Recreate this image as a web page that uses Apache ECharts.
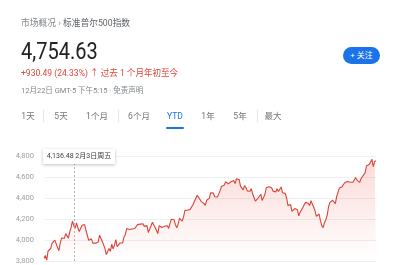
<!DOCTYPE html>
<html><head><meta charset="utf-8">
<script src="https://cdn.jsdelivr.net/npm/echarts@6/dist/echarts.min.js"></script>
<style>
html,body{margin:0;padding:0;background:#fff;}
body{width:395px;height:265px;overflow:hidden;position:relative;font-family:Roboto,"Noto Sans CJK SC",sans-serif;}
#chart{position:absolute;left:0;top:0;width:395px;height:265px;z-index:0;}
.t{position:absolute;white-space:nowrap;z-index:2;line-height:1;}
.tab{position:absolute;top:112px;font-size:8.5px;color:#70757a;z-index:2;transform:translateX(-50%);white-space:nowrap;line-height:1;}
.sep{position:absolute;top:110px;width:1px;height:12px;background:#e3e5e8;z-index:2;}
</style></head><body>
<div id="chart"></div>
<div class="t" style="left:21px;top:18px;font-size:9.5px;color:#80868b;transform:scaleX(0.92);transform-origin:left;">市场概况 › <span style="color:#5f6368">标准普尔500指数</span></div>
<div class="t" id="price" style="left:21px;top:40px;font-size:23px;color:#202124;transform:scaleX(0.87);transform-origin:left;"></div>
<div class="t" id="change" style="left:21px;top:69px;font-size:9px;color:#e0463a;transform:scaleX(0.95);transform-origin:left;"></div>
<div class="t" style="left:21px;top:87px;font-size:7.5px;color:#80868b;">12月22日 GMT-5 下午5:15 · 免责声明</div>
<div class="t" style="left:343px;top:47px;width:37px;height:17px;border-radius:9px;background:#1a73e8;color:#fff;font-size:8px;display:flex;align-items:center;justify-content:center;">+ 关注</div>
<div id="tabs"></div>
<div class="t" style="left:166px;top:127px;width:18px;height:2px;background:#1a73e8;border-radius:1px;"></div>
<div class="t" id="tip" style="left:43px;top:149px;width:72px;height:15px;background:#fff;box-shadow:0 1px 3px rgba(0,0,0,.25);font-size:7px;color:#3c4043;display:flex;align-items:center;justify-content:center;"></div>
<script>
const breadcrumb = ["市场概况", "标准普尔500指数"];
const lastPrice = "4,754.63";
const changeText = "+930.49 (24.33%) ↑ 过去 1 个月年初至今";
const tabLabels = ["1天","5天","1个月","6个月","YTD","1年","5年","最大"];
const tabCenters = [28,61,97,139,175,208,240,273];
const tabSeparators = [43,118,257];
const yTicks = [3800,4000,4200,4400,4600,4800];
const hoverIndex = 22;
const hoverLabel = "4,136.48 2月3日周五";

const dates = [
"01/03","01/04","01/05","01/06","01/09","01/10","01/11","01/12","01/13","01/17","01/18","01/19","01/20","01/23","01/24","01/25","01/26","01/27","01/30","01/31",
"02/01","02/02","02/03","02/06","02/07","02/08","02/09","02/10","02/13","02/14","02/15","02/16","02/17","02/21","02/22","02/23","02/24","02/27","02/28",
"03/01","03/02","03/03","03/06","03/07","03/08","03/09","03/10","03/13","03/14","03/15","03/16","03/17","03/20","03/21","03/22","03/23","03/24","03/27","03/28","03/29","03/30","03/31",
"04/03","04/04","04/05","04/06","04/10","04/11","04/12","04/13","04/14","04/17","04/18","04/19","04/20","04/21","04/24","04/25","04/26","04/27","04/28",
"05/01","05/02","05/03","05/04","05/05","05/08","05/09","05/10","05/11","05/12","05/15","05/16","05/17","05/18","05/19","05/22","05/23","05/24","05/25","05/26","05/30","05/31",
"06/01","06/02","06/05","06/06","06/07","06/08","06/09","06/12","06/13","06/14","06/15","06/16","06/20","06/21","06/22","06/23","06/26","06/27","06/28","06/29","06/30",
"07/03","07/05","07/06","07/07","07/10","07/11","07/12","07/13","07/14","07/17","07/18","07/19","07/20","07/21","07/24","07/25","07/26","07/27","07/28","07/31",
"08/01","08/02","08/03","08/04","08/07","08/08","08/09","08/10","08/11","08/14","08/15","08/16","08/17","08/18","08/21","08/22","08/23","08/24","08/25","08/28","08/29","08/30","08/31",
"09/01","09/05","09/06","09/07","09/08","09/11","09/12","09/13","09/14","09/15","09/18","09/19","09/20","09/21","09/22","09/25","09/26","09/27","09/28","09/29",
"10/02","10/03","10/04","10/05","10/06","10/09","10/10","10/11","10/12","10/13","10/16","10/17","10/18","10/19","10/20","10/23","10/24","10/25","10/26","10/27","10/30","10/31",
"11/01","11/02","11/03","11/06","11/07","11/08","11/09","11/10","11/13","11/14","11/15","11/16","11/17","11/20","11/21","11/22","11/24","11/27","11/28","11/29","11/30",
"12/01","12/04","12/05","12/06","12/07","12/08","12/11","12/12","12/13","12/14","12/15","12/18","12/19","12/20","12/21","12/22"];

const closes = [
3824.14,3852.97,3808.10,3895.08,3892.09,3919.25,3969.61,3983.17,3999.09,3990.97,3928.86,3898.85,3972.61,4019.81,4016.95,4016.22,4060.43,4070.56,4017.77,4076.60,
4119.21,4179.76,4136.48,4111.08,4164.00,4117.86,4081.50,4090.46,4137.29,4136.13,4147.60,4090.41,4079.09,3997.34,3991.05,4012.32,3970.04,3982.24,3970.15,
3951.39,3981.35,4045.64,4048.42,3986.37,3992.01,3918.32,3861.59,3855.76,3919.29,3891.93,3960.28,3916.64,3951.57,4002.87,3936.97,3948.72,3970.99,3977.53,3971.27,4027.81,4050.83,4109.31,
4124.51,4100.60,4090.38,4105.02,4109.11,4108.94,4091.95,4146.22,4137.64,4151.32,4154.87,4154.52,4129.79,4133.52,4137.04,4071.63,4055.99,4135.35,4169.48,
4167.87,4119.58,4090.75,4061.22,4136.25,4138.12,4119.17,4137.64,4130.62,4124.08,4136.28,4109.90,4158.77,4198.05,4191.98,4192.63,4145.58,4115.24,4151.28,4205.45,4205.52,4179.83,
4221.02,4282.37,4273.79,4283.85,4267.52,4293.93,4298.86,4338.93,4369.01,4372.59,4425.84,4409.59,4388.71,4365.69,4381.89,4348.33,4328.82,4378.41,4376.86,4396.44,4450.38,
4455.59,4446.82,4411.59,4398.95,4409.53,4439.26,4472.16,4510.04,4505.42,4522.79,4554.98,4565.72,4534.87,4536.34,4554.64,4567.46,4566.75,4537.41,4582.23,4588.96,
4576.73,4513.39,4501.89,4478.03,4518.44,4499.38,4467.71,4468.83,4464.05,4489.72,4437.86,4404.33,4370.36,4369.71,4399.77,4387.55,4436.01,4376.31,4405.71,4433.31,4497.63,4514.87,4507.66,
4515.77,4496.83,4465.48,4451.14,4457.49,4487.46,4461.90,4467.44,4505.10,4450.32,4453.53,4443.95,4402.20,4330.00,4320.06,4337.44,4273.53,4274.51,4299.70,4288.05,
4288.39,4229.45,4263.75,4258.19,4308.50,4335.66,4358.24,4376.95,4349.61,4327.78,4373.63,4373.20,4314.60,4278.00,4224.16,4217.04,4247.68,4186.77,4137.23,4117.37,4166.82,4193.80,
4237.86,4317.78,4358.34,4365.98,4378.38,4382.78,4347.35,4415.24,4411.55,4495.70,4502.88,4508.24,4514.02,4547.38,4538.19,4556.62,4559.34,4550.43,4554.89,4550.58,4567.80,
4594.63,4569.78,4567.18,4549.34,4585.59,4604.37,4622.44,4643.70,4707.09,4719.55,4719.19,4740.56,4768.37,4698.35,4746.75,4754.63];

document.getElementById('price').textContent = lastPrice;
document.getElementById('change').textContent = changeText;
document.getElementById('tip').textContent = hoverLabel;
const tabsEl = document.getElementById('tabs');
tabLabels.forEach((l,i)=>{
  const d=document.createElement('div'); d.className='tab'; d.textContent=l;
  d.style.left=tabCenters[i]+'px';
  if(l==='YTD'){d.style.color='#1a73e8';}
  tabsEl.appendChild(d);
});
tabSeparators.forEach(x=>{const s=document.createElement('div');s.className='sep';s.style.left=x+'px';tabsEl.appendChild(s);});

const chart = echarts.init(document.getElementById('chart'), null, {renderer:'canvas'});
chart.setOption({
  animation:false,
  grid:{left:44,right:19,top:156,bottom:1},
  xAxis:{type:'category',data:dates,boundaryGap:false,show:false},
  yAxis:{type:'value',min:yTicks[0],max:yTicks[yTicks.length-1],interval:200,
    axisLine:{show:false},axisTick:{show:false},
    splitLine:{lineStyle:{color:'#eef0f2',width:1}},
    axisLabel:{color:'#9aa0a6',fontSize:7.5,margin:10,fontFamily:'Roboto',
      formatter:v=>v.toLocaleString('en-US')}},
  series:[{type:'line',data:closes,symbol:'none',
    lineStyle:{color:'#dc4236',width:1.1},
    areaStyle:{color:new echarts.graphic.LinearGradient(0,0,0,1,[
      {offset:0,color:'rgba(234,67,53,0.28)'},{offset:1,color:'rgba(234,67,53,0)'}])},
    markLine:{symbol:'none',silent:true,label:{show:false},
      lineStyle:{color:'#b0b4b8',type:[2,2],width:1},
      data:[{xAxis:hoverIndex}]}
  }]
});
</script>
</body></html>
